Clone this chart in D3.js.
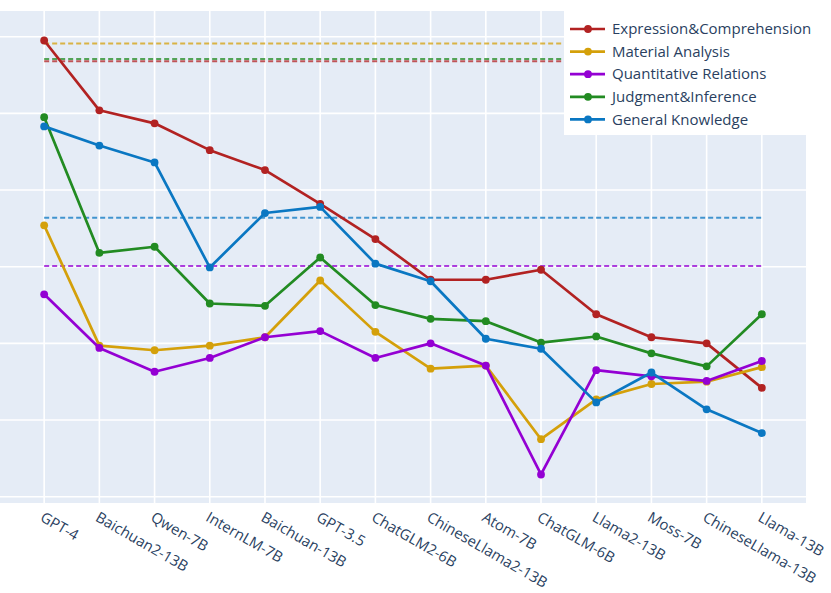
<!DOCTYPE html>
<html><head><meta charset="utf-8">
<script src="https://cdn.jsdelivr.net/npm/d3@7"></script>
<style>body{margin:0;background:#fff}svg{display:block}</style>
</head><body><svg id="c" width="831" height="593"></svg>
<script>
const categories = ["GPT-4","Baichuan2-13B","Qwen-7B","InternLM-7B","Baichuan-13B","GPT-3.5","ChatGLM2-6B","ChineseLlama2-13B","Atom-7B","ChatGLM-6B","Llama2-13B","Moss-7B","ChineseLlama-13B","Llama-13B"];
const seriesNames = ["Expression&Comprehension","Material Analysis","Quantitative Relations","Judgment&Inference","General Knowledge"];
const seriesColors = ["#b22222","#d4a00a","#9400d3","#228b22","#0a77c2"];
const expression = [79.5,70.4,68.7,65.2,62.6,58.2,53.6,48.3,48.3,49.6,43.8,40.8,40.0,34.2];
const material = [55.4,39.7,39.1,39.7,40.8,48.2,41.5,36.7,37.1,27.5,32.7,34.7,35.0,36.9];
const quantitative = [46.4,39.4,36.3,38.1,40.8,41.6,38.1,40.0,37.1,22.9,36.5,35.7,35.1,37.7];
const judgment = [69.5,51.8,52.6,45.2,44.9,51.2,45.0,43.2,42.9,40.1,40.9,38.7,37.0,43.8];
const knowledge = [68.3,65.8,63.6,49.9,57.0,57.8,50.4,48.1,40.6,39.3,32.3,36.2,31.4,28.3];
const referenceLevels = [76.8,79.1,50.1,77.1,56.4]; // dashed lines, same order as series
const yTicks = [20,30,40,50,60,70,80];

const seriesValues = [expression, material, quantitative, judgment, knowledge];
const svg = d3.select("#c");
const font = "'Open Sans', verdana, arial, sans-serif";
const textColor = "#2a3f5f";

const plot = {left:0, right:806, top:11, bottom:503};
const x = d3.scaleLinear().domain([-0.8, categories.length - 1 + 0.8]).range([plot.left, plot.right]);
const y = d3.scaleLinear().domain([19.18, 83.35]).range([plot.bottom, plot.top]);

svg.append("rect").attr("x",plot.left).attr("y",plot.top)
  .attr("width",plot.right-plot.left).attr("height",plot.bottom-plot.top).attr("fill","#e5ecf6");

const g = svg.append("g");
g.selectAll(".vg").data(categories).join("line")
  .attr("x1",(d,i)=>x(i)).attr("x2",(d,i)=>x(i))
  .attr("y1",plot.top).attr("y2",plot.bottom)
  .attr("stroke","#fff").attr("stroke-width",1.6);
g.selectAll(".hg").data(yTicks).join("line")
  .attr("x1",plot.left).attr("x2",plot.right)
  .attr("y1",d=>y(d)).attr("y2",d=>y(d))
  .attr("stroke","#fff").attr("stroke-width",1.6);

// dashed reference lines
g.selectAll(".ref").data(referenceLevels).join("line")
  .attr("x1",x(0)).attr("x2",x(categories.length-1))
  .attr("y1",d=>y(d)).attr("y2",d=>y(d))
  .attr("stroke",(d,i)=>seriesColors[i]).attr("stroke-opacity",0.75)
  .attr("stroke-width",2).attr("stroke-dasharray","5,3");

const line = d3.line().x((d,i)=>x(i)).y(d=>y(d));
seriesValues.forEach((vals,si)=>{
  const s = g.append("g");
  s.append("path").datum(vals).attr("d",line).attr("fill","none")
    .attr("stroke",seriesColors[si]).attr("stroke-width",2.7).attr("stroke-linejoin","round");
  s.selectAll("circle").data(vals).join("circle")
    .attr("cx",(d,i)=>x(i)).attr("cy",d=>y(d)).attr("r",3.9).attr("fill",seriesColors[si]);
});

// x tick labels
svg.append("g").selectAll("text").data(categories).join("text")
  .attr("transform",(d,i)=>`translate(${x(i)+1},${plot.bottom+7}) rotate(30)`)
  .attr("text-anchor","start").attr("dy","0.8em")
  .attr("font-family",font).attr("font-size",14.8).attr("fill",textColor)
  .text(d=>d);

// legend
const lg = svg.append("g");
lg.append("rect").attr("x",564).attr("y",plot.top).attr("width",plot.right-564).attr("height",124).attr("fill","#fff");
seriesNames.forEach((name,i)=>{
  const cy = 29 + i*22.6;
  lg.append("line").attr("x1",570).attr("x2",605).attr("y1",cy).attr("y2",cy)
    .attr("stroke",seriesColors[i]).attr("stroke-width",2.7);
  lg.append("circle").attr("cx",588).attr("cy",cy).attr("r",3.9).attr("fill",seriesColors[i]);
  lg.append("text").attr("x",612).attr("y",cy).attr("dy","0.35em")
    .attr("font-family",font).attr("font-size",15).attr("fill",textColor).text(name);
});
</script></body></html>
